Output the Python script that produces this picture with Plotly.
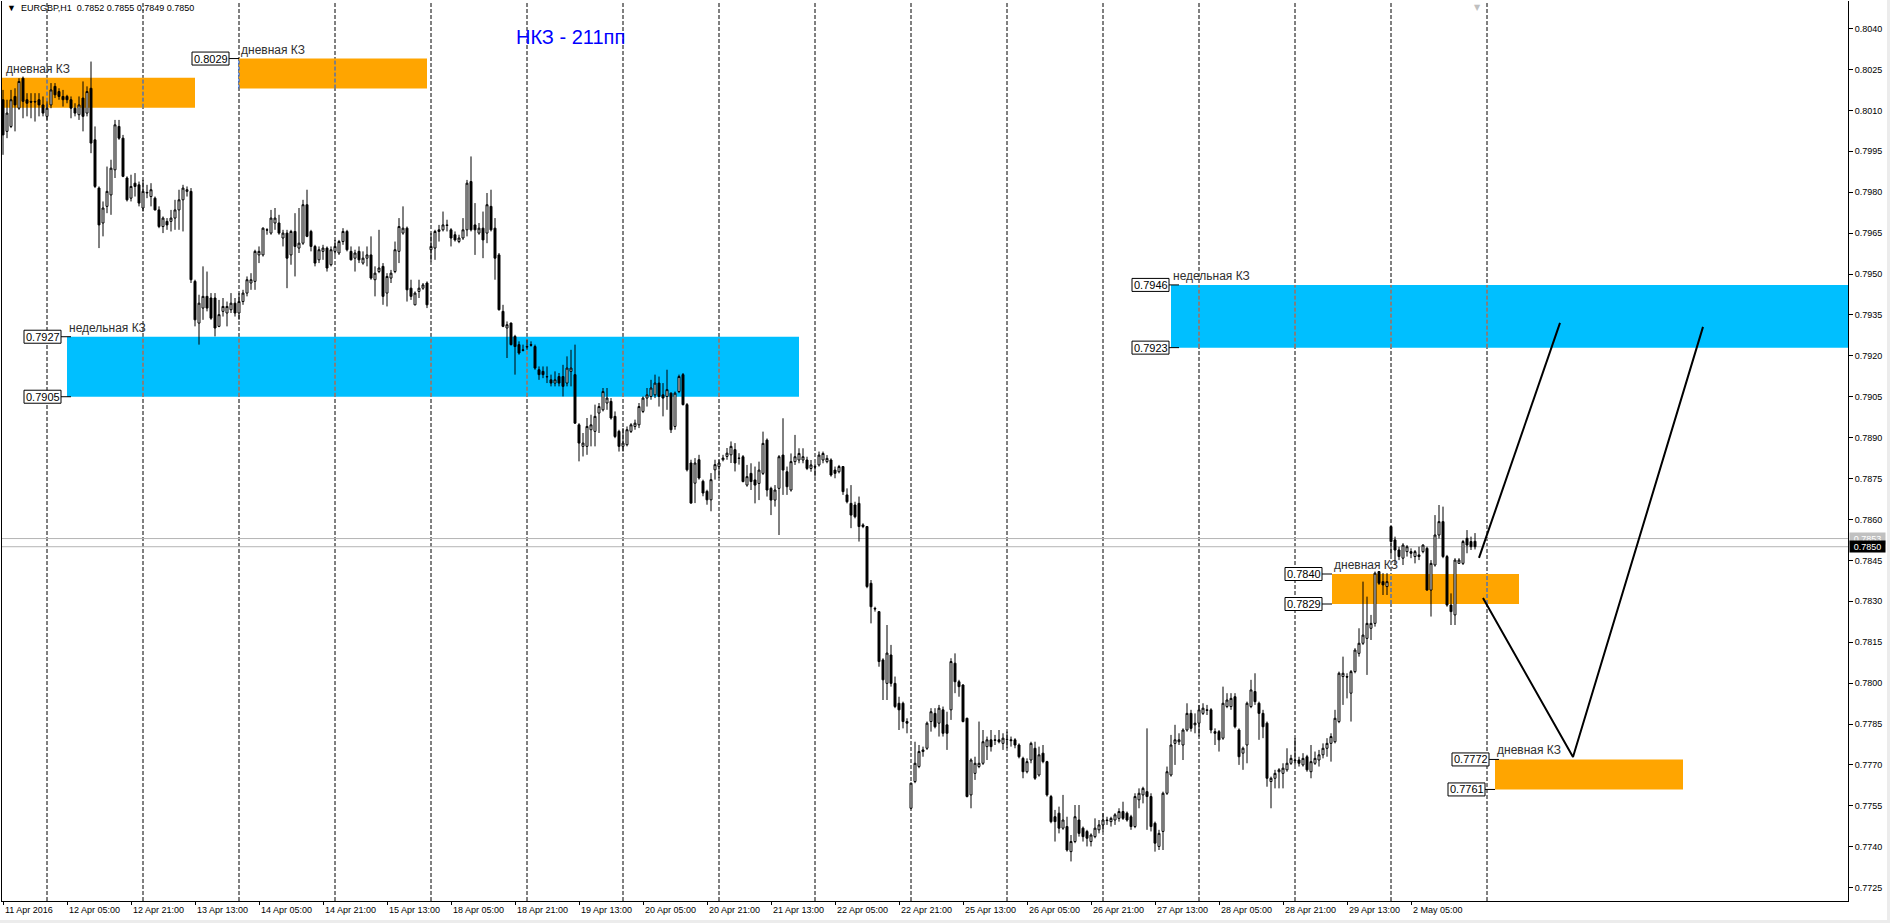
import plotly.graph_objects as go

FONT = "Liberation Sans, Arial, DejaVu Sans, sans-serif"
SYMBOL = "EURGBP,H1"
TITLE_TEXT = "НКЗ - 211пп"

# H1 bars, weekends removed. Bar -1 = 11 Apr 2016 13:00, bar 10 = 12 Apr 00:00 ...
opens = (
    [0.80139,0.80023,0.80041,0.80151,0.80108,0.80218,0.80139,0.80133,0.80133,0.80139,0.80120]  # 11 Apr
    + [0.80078,0.80120,0.80188,0.80169,0.80151,0.80151,0.80139,0.80108,0.80084,0.80145,0.80090,0.80181,0.79992,0.79815,0.79687,0.79748,0.79790,0.79882,0.80041,0.79998,0.79852,0.79778,0.79833,0.79827]  # 12 Apr
    + [0.79742,0.79797,0.79784,0.79778,0.79735,0.79674,0.79693,0.79693,0.79705,0.79735,0.79772,0.79803,0.79803,0.79473,0.79320,0.79375,0.79418,0.79412,0.79412,0.79308,0.79363,0.79357,0.79369,0.79393]  # 13 Apr
    + [0.79357,0.79399,0.79430,0.79467,0.79473,0.79570,0.79570,0.79662,0.79650,0.79687,0.79687,0.79632,0.79650,0.79570,0.79656,0.79595,0.79613,0.79754,0.79656,0.79601,0.79552,0.79583,0.79595,0.79534]  # 14 Apr
    + [0.79583,0.79577,0.79619,0.79656,0.79583,0.79558,0.79583,0.79540,0.79558,0.79570,0.79479,0.79509,0.79528,0.79430,0.79485,0.79509,0.79583,0.79650,0.79668,0.79448,0.79387,0.79436,0.79448,0.79467]  # 15 Apr
    + [0.79589,0.79595,0.79656,0.79662,0.79680,0.79662,0.79644,0.79619,0.79632,0.79662,0.79839,0.79680,0.79650,0.79668,0.79650,0.79748,0.79668,0.79570,0.79363,0.79302,0.79320,0.79271,0.79241,0.79222]  # 18 Apr
    + [0.79232,0.79241,0.79234,0.79149,0.79143,0.79124,0.79112,0.79100,0.79124,0.79124,0.79100,0.79143,0.79131,0.78947,0.78868,0.78868,0.78929,0.78923,0.78990,0.79002,0.79027,0.79033,0.78978,0.78923]  # 19 Apr
    + [0.78868,0.78874,0.78923,0.78941,0.78947,0.78996,0.79045,0.79051,0.79057,0.79100,0.79057,0.79051,0.79063,0.78941,0.79069,0.79131,0.79021,0.78807,0.78733,0.78819,0.78740,0.78703,0.78672,0.78782]  # 20 Apr
    + [0.78794,0.78819,0.78831,0.78837,0.78856,0.78825,0.78830,0.78726,0.78769,0.78745,0.78732,0.78769,0.78891,0.78714,0.78671,0.78714,0.78836,0.78775,0.78708,0.78812,0.78818,0.78818,0.78818,0.78787]  # 21 Apr
    + [0.78794,0.78800,0.78818,0.78812,0.78818,0.78781,0.78775,0.78794,0.78690,0.78659,0.78653,0.78659,0.78580,0.78574,0.78366,0.78274,0.78262,0.78085,0.77999,0.78103,0.77999,0.77926,0.77926,0.77859]  # 22 Apr
    + [0.77541,0.77639,0.77694,0.77749,0.77761,0.77859,0.77889,0.77853,0.77902,0.77847,0.77902,0.78073,0.78005,0.77993,0.77871,0.77590,0.77669,0.77694,0.77706,0.77767,0.77792,0.77792,0.77792,0.77779]  # 25 Apr
    + [0.77792,0.77792,0.77792,0.77773,0.77724,0.77675,0.77718,0.77761,0.77663,0.77743,0.77712,0.77584,0.77510,0.77523,0.77468,0.77474,0.77382,0.77419,0.77498,0.77468,0.77456,0.77419,0.77437,0.77462]  # 26 Apr
    + [0.77480,0.77498,0.77492,0.77498,0.77504,0.77529,0.77523,0.77510,0.77474,0.77572,0.77590,0.77602,0.77584,0.77486,0.77401,0.77456,0.77596,0.77663,0.77779,0.77785,0.77773,0.77828,0.77889,0.77847]  # 27 Apr
    + [0.77853,0.77889,0.77902,0.77902,0.77822,0.77822,0.77798,0.77914,0.77914,0.77950,0.77828,0.77743,0.77773,0.77914,0.77969,0.77926,0.77889,0.77853,0.77639,0.77651,0.77675,0.77669,0.77682,0.77706]  # 28 Apr
    + [0.77718,0.77718,0.77700,0.77730,0.77675,0.77706,0.77718,0.77737,0.77761,0.77779,0.77785,0.77859,0.78024,0.78024,0.77963,0.78042,0.78109,0.78146,0.78164,0.78201,0.78219,0.78409,0.78372,0.78354]  # 29 Apr
    + [0.78574,0.78525,0.78488,0.78458,0.78482,0.78482,0.78464,0.78470,0.78482,0.78494,0.78341,0.78433,0.78543,0.78592,0.78464,0.78286,0.78250,0.78439,0.78439,0.78531,0.78519,0.78520]  # 2 May
)
highs = (
    [0.80175,0.80139,0.80175,0.80181,0.80218,0.80224,0.80163,0.80163,0.80163,0.80163,0.80151]
    + [0.80133,0.80200,0.80200,0.80181,0.80175,0.80157,0.80151,0.80126,0.80151,0.80206,0.80188,0.80279,0.80041,0.79821,0.79766,0.79894,0.79919,0.80065,0.80065,0.80010,0.79858,0.79864,0.79870,0.79839]
    + [0.79845,0.79827,0.79833,0.79784,0.79748,0.79711,0.79705,0.79735,0.79772,0.79809,0.79827,0.79821,0.79815,0.79479,0.79424,0.79528,0.79509,0.79430,0.79430,0.79405,0.79412,0.79399,0.79430,0.79412]
    + [0.79430,0.79442,0.79491,0.79503,0.79589,0.79601,0.79671,0.79668,0.79735,0.79742,0.79717,0.79662,0.79662,0.79662,0.79723,0.79742,0.79772,0.79809,0.79662,0.79607,0.79601,0.79607,0.79601,0.79601]
    + [0.79625,0.79625,0.79668,0.79662,0.79601,0.79589,0.79601,0.79583,0.79601,0.79638,0.79528,0.79662,0.79540,0.79503,0.79515,0.79619,0.79705,0.79748,0.79674,0.79479,0.79436,0.79479,0.79467,0.79473]
    + [0.79650,0.79662,0.79680,0.79729,0.79699,0.79668,0.79656,0.79644,0.79705,0.79845,0.79931,0.79760,0.79687,0.79729,0.79797,0.79809,0.79705,0.79577,0.79387,0.79326,0.79322,0.79277,0.79253,0.79241]
    + [0.79259,0.79253,0.79241,0.79161,0.79161,0.79161,0.79131,0.79143,0.79137,0.79167,0.79198,0.79222,0.79241,0.78953,0.78917,0.78972,0.78984,0.79021,0.79027,0.79082,0.79082,0.79045,0.78996,0.78929]
    + [0.78935,0.78941,0.78953,0.78966,0.79027,0.79051,0.79082,0.79112,0.79131,0.79124,0.79100,0.79149,0.79066,0.79069,0.79131,0.79137,0.79027,0.78819,0.78825,0.78837,0.78746,0.78709,0.78770,0.78819]
    + [0.78819,0.78837,0.78862,0.78886,0.78880,0.78843,0.78836,0.78800,0.78806,0.78794,0.78812,0.78922,0.78897,0.78720,0.78726,0.78836,0.78971,0.78794,0.78842,0.78910,0.78861,0.78861,0.78830,0.78818]
    + [0.78806,0.78849,0.78849,0.78836,0.78824,0.78794,0.78800,0.78796,0.78714,0.78726,0.78665,0.78684,0.78586,0.78576,0.78378,0.78280,0.78264,0.78091,0.78213,0.78140,0.78024,0.77950,0.77932,0.77871]
    + [0.77635,0.77785,0.77773,0.77767,0.77859,0.77908,0.77908,0.77920,0.77914,0.77895,0.78091,0.78109,0.78012,0.77996,0.77873,0.77724,0.77730,0.77859,0.77828,0.77804,0.77828,0.77810,0.77828,0.77816]
    + [0.77822,0.77804,0.77798,0.77779,0.77730,0.77724,0.77785,0.77785,0.77767,0.77773,0.77715,0.77590,0.77535,0.77547,0.77590,0.77510,0.77443,0.77553,0.77553,0.77474,0.77462,0.77449,0.77504,0.77498]
    + [0.77523,0.77510,0.77510,0.77523,0.77541,0.77565,0.77529,0.77517,0.77596,0.77614,0.77620,0.77834,0.77596,0.77492,0.77462,0.77602,0.77694,0.77810,0.77847,0.77816,0.77834,0.77926,0.77902,0.77889]
    + [0.77920,0.77926,0.77920,0.77908,0.77834,0.77828,0.77987,0.77963,0.77963,0.77963,0.77834,0.77767,0.77932,0.78012,0.78036,0.77932,0.77902,0.77859,0.77657,0.77682,0.77688,0.77706,0.77761,0.77737]
    + [0.77798,0.77730,0.77743,0.77737,0.77773,0.77749,0.77755,0.77779,0.77798,0.77816,0.77902,0.78042,0.78097,0.78036,0.78048,0.78128,0.78201,0.78372,0.78317,0.78250,0.78409,0.78411,0.78403,0.78403]
    + [0.78576,0.78537,0.78500,0.78513,0.78506,0.78494,0.78488,0.78500,0.78509,0.78500,0.78451,0.78616,0.78653,0.78647,0.78470,0.78329,0.78458,0.78458,0.78525,0.78561,0.78537,0.78550]
)
lows = (
    [0.79937,0.79998,0.80035,0.80023,0.80102,0.80071,0.80078,0.80071,0.80059,0.80078,0.80078]
    + [0.80065,0.80108,0.80145,0.80139,0.80114,0.80126,0.80071,0.80078,0.80065,0.80023,0.80078,0.79943,0.79815,0.79595,0.79638,0.79723,0.79717,0.79852,0.79992,0.79855,0.79766,0.79766,0.79784,0.79748]
    + [0.79729,0.79778,0.79748,0.79733,0.79668,0.79650,0.79662,0.79656,0.79662,0.79662,0.79656,0.79784,0.79467,0.79308,0.79241,0.79332,0.79363,0.79332,0.79271,0.79305,0.79344,0.79308,0.79357,0.79344]
    + [0.79332,0.79387,0.79418,0.79442,0.79442,0.79540,0.79564,0.79644,0.79644,0.79662,0.79644,0.79601,0.79448,0.79534,0.79491,0.79577,0.79607,0.79635,0.79583,0.79528,0.79540,0.79552,0.79509,0.79528]
    + [0.79570,0.79570,0.79607,0.79583,0.79550,0.79509,0.79540,0.79534,0.79528,0.79479,0.79418,0.79503,0.79387,0.79381,0.79467,0.79503,0.79540,0.79644,0.79399,0.79405,0.79385,0.79412,0.79442,0.79375]
    + [0.79546,0.79552,0.79619,0.79656,0.79656,0.79601,0.79619,0.79613,0.79625,0.79638,0.79656,0.79570,0.79644,0.79558,0.79613,0.79656,0.79479,0.79366,0.79305,0.79192,0.79238,0.79131,0.79204,0.79216]
    + [0.79222,0.79234,0.79149,0.79112,0.79118,0.79100,0.79088,0.79088,0.79088,0.79051,0.79088,0.79088,0.78951,0.78813,0.78831,0.78837,0.78868,0.78868,0.78917,0.78996,0.79002,0.78966,0.78898,0.78849]
    + [0.78849,0.78868,0.78917,0.78929,0.78935,0.78990,0.79014,0.79039,0.79045,0.79014,0.78978,0.79002,0.78917,0.78929,0.79063,0.79018,0.78776,0.78658,0.78660,0.78746,0.78685,0.78654,0.78630,0.78746]
    + [0.78752,0.78813,0.78819,0.78807,0.78776,0.78801,0.78736,0.78720,0.78708,0.78659,0.78671,0.78763,0.78684,0.78616,0.78647,0.78543,0.78690,0.78690,0.78702,0.78800,0.78806,0.78806,0.78781,0.78775]
    + [0.78757,0.78794,0.78806,0.78806,0.78757,0.78751,0.78769,0.78690,0.78659,0.78568,0.78604,0.78519,0.78568,0.78348,0.78219,0.78262,0.78060,0.77938,0.77938,0.77987,0.77908,0.77828,0.77834,0.77816]
    + [0.77539,0.77633,0.77688,0.77730,0.77755,0.77822,0.77834,0.77804,0.77804,0.77755,0.77865,0.77963,0.77950,0.77856,0.77581,0.77541,0.77645,0.77688,0.77700,0.77718,0.77749,0.77773,0.77779,0.77755]
    + [0.77761,0.77767,0.77761,0.77724,0.77651,0.77669,0.77706,0.77645,0.77657,0.77706,0.77584,0.77486,0.77419,0.77449,0.77462,0.77382,0.77346,0.77413,0.77437,0.77419,0.77401,0.77401,0.77431,0.77449]
    + [0.77456,0.77480,0.77474,0.77480,0.77492,0.77498,0.77492,0.77462,0.77468,0.77541,0.77559,0.77462,0.77456,0.77382,0.77388,0.77388,0.77590,0.77657,0.77700,0.77773,0.77718,0.77822,0.77822,0.77816]
    + [0.77804,0.77883,0.77883,0.77816,0.77773,0.77749,0.77792,0.77908,0.77902,0.77834,0.77700,0.77682,0.77706,0.77908,0.77920,0.77792,0.77798,0.77620,0.77541,0.77614,0.77614,0.77614,0.77675,0.77700]
    + [0.77700,0.77694,0.77694,0.77675,0.77651,0.77700,0.77694,0.77724,0.77730,0.77712,0.77779,0.77853,0.77920,0.77944,0.77859,0.78036,0.78097,0.78140,0.78030,0.78158,0.78207,0.78360,0.78323,0.78323]
    + [0.78470,0.78433,0.78451,0.78433,0.78464,0.78458,0.78439,0.78451,0.78476,0.78339,0.78244,0.78427,0.78530,0.78458,0.78280,0.78213,0.78213,0.78437,0.78433,0.78476,0.78488,0.78490]
)
closes = (
    [0.80010,0.80090,0.80139,0.80120,0.80206,0.80133,0.80126,0.80130,0.80131,0.80120,0.80090]
    + [0.80108,0.80175,0.80157,0.80151,0.80139,0.80139,0.80108,0.80090,0.80120,0.80078,0.80169,0.79980,0.79821,0.79680,0.79742,0.79803,0.79888,0.80047,0.79998,0.79858,0.79772,0.79821,0.79821,0.79760]
    + [0.79803,0.79799,0.79809,0.79735,0.79674,0.79705,0.79680,0.79705,0.79735,0.79772,0.79815,0.79809,0.79479,0.79332,0.79393,0.79418,0.79375,0.79338,0.79302,0.79351,0.79381,0.79381,0.79393,0.79357]
    + [0.79399,0.79430,0.79479,0.79479,0.79583,0.79583,0.79668,0.79661,0.79705,0.79705,0.79650,0.79650,0.79558,0.79656,0.79601,0.79613,0.79754,0.79638,0.79601,0.79540,0.79589,0.79595,0.79522,0.79589]
    + [0.79601,0.79619,0.79656,0.79589,0.79552,0.79577,0.79552,0.79558,0.79570,0.79485,0.79503,0.79522,0.79418,0.79491,0.79503,0.79589,0.79674,0.79668,0.79442,0.79418,0.79430,0.79448,0.79460,0.79387]
    + [0.79601,0.79656,0.79662,0.79680,0.79678,0.79632,0.79625,0.79632,0.79662,0.79833,0.79662,0.79662,0.79668,0.79625,0.79754,0.79662,0.79558,0.79369,0.79308,0.79314,0.79241,0.79234,0.79210,0.79220]
    + [0.79234,0.79239,0.79155,0.79131,0.79131,0.79123,0.79100,0.79112,0.79100,0.79088,0.79155,0.79155,0.78953,0.78880,0.78880,0.78941,0.78947,0.78978,0.79014,0.79069,0.79045,0.78972,0.78904,0.78868]
    + [0.78880,0.78929,0.78947,0.78953,0.79014,0.79045,0.79057,0.79082,0.79100,0.79051,0.79045,0.79076,0.78929,0.79063,0.79124,0.79021,0.78782,0.78660,0.78807,0.78752,0.78697,0.78672,0.78746,0.78801]
    + [0.78807,0.78825,0.78843,0.78868,0.78807,0.78824,0.78739,0.78757,0.78739,0.78726,0.78781,0.78879,0.78708,0.78671,0.78708,0.78830,0.78781,0.78720,0.78812,0.78830,0.78842,0.78830,0.78787,0.78800]
    + [0.78792,0.78836,0.78842,0.78824,0.78763,0.78769,0.78794,0.78702,0.78665,0.78616,0.78610,0.78574,0.78574,0.78354,0.78280,0.78272,0.78079,0.78012,0.78110,0.77999,0.77914,0.77902,0.77859,0.77853]
    + [0.77633,0.77706,0.77749,0.77755,0.77853,0.77895,0.77840,0.77908,0.77816,0.77816,0.78079,0.78005,0.77987,0.77859,0.77584,0.77718,0.77706,0.77706,0.77785,0.77792,0.77767,0.77790,0.77785,0.77798]
    + [0.77793,0.77789,0.77773,0.77730,0.77675,0.77712,0.77779,0.77651,0.77737,0.77712,0.77590,0.77492,0.77492,0.77468,0.77498,0.77388,0.77419,0.77510,0.77449,0.77437,0.77431,0.77443,0.77468,0.77480]
    + [0.77498,0.77496,0.77504,0.77517,0.77529,0.77504,0.77498,0.77474,0.77584,0.77596,0.77614,0.77584,0.77474,0.77413,0.77449,0.77596,0.77675,0.77773,0.77792,0.77792,0.77828,0.77889,0.77834,0.77853]
    + [0.77902,0.77908,0.77900,0.77828,0.77816,0.77792,0.77926,0.77938,0.77944,0.77840,0.77730,0.77761,0.77926,0.77975,0.77932,0.77889,0.77840,0.77651,0.77651,0.77669,0.77682,0.77688,0.77706,0.77724]
    + [0.77716,0.77706,0.77724,0.77682,0.77712,0.77724,0.77737,0.77761,0.77779,0.77804,0.77871,0.78036,0.78036,0.78022,0.78042,0.78121,0.78146,0.78176,0.78219,0.78219,0.78403,0.78366,0.78360,0.78372]
    + [0.78519,0.78488,0.78464,0.78506,0.78500,0.78476,0.78482,0.78464,0.78506,0.78341,0.78439,0.78543,0.78592,0.78464,0.78286,0.78262,0.78451,0.78451,0.78519,0.78506,0.78500,0.78500]
)
FIRST_BAR = -1
bars = list(range(FIRST_BAR, FIRST_BAR + len(opens)))

# time axis
tick_bars = [-1, 15, 31, 47, 63, 79, 95, 111, 127, 143, 159, 175, 191, 207, 223,
             239, 255, 271, 287, 303, 319, 335, 351]
tick_text = ["11 Apr 2016", "12 Apr 05:00", "12 Apr 21:00", "13 Apr 13:00", "14 Apr 05:00",
             "14 Apr 21:00", "15 Apr 13:00", "18 Apr 05:00", "18 Apr 21:00", "19 Apr 13:00",
             "20 Apr 05:00", "20 Apr 21:00", "21 Apr 13:00", "22 Apr 05:00", "22 Apr 21:00",
             "25 Apr 13:00", "26 Apr 05:00", "26 Apr 21:00", "27 Apr 13:00", "28 Apr 05:00",
             "28 Apr 21:00", "29 Apr 13:00", "2 May 05:00"]
day_start_bars = [10, 34, 58, 82, 106, 130, 154, 178, 202, 226, 250, 274, 298, 322, 346, 370]

# supply/demand zones (bar index span, price span)
zone_x0 = [-5, 58, 15, 291, 331.25, 372]
zone_x1 = [47, 105, 198, 470, 378, 419]
zone_lo = [0.8011, 0.8018, 0.7905, 0.7923, 0.7829, 0.7761]
zone_hi = [0.8022, 0.8029, 0.7927, 0.7946, 0.7840, 0.7772]
zone_kind = ["day", "day", "week", "week", "day", "day"]
zone_label_x = [-0.75, 58, 15, 291, 331.25, 372]
ZONE_TEXT = {"day": "дневная КЗ", "week": "недельная КЗ"}
ZONE_COLOR = {"day": "#FFA500", "week": "#00BFFF"}
ZONE_SEP_COLOR = {"day": "rgb(0,90,255)", "week": "rgb(255,64,0)"}

# price tags (bar where the tag's leader ends, price)
tag_bar = [58, 16, 16, 293, 293, 331.25, 331.25, 373, 372]
tag_price = [0.8029, 0.7927, 0.7905, 0.7946, 0.7923, 0.7840, 0.7829, 0.7772, 0.7761]

# projected path drawn by the analyst
proj_up_x = [368, 388.25]
proj_up_y = [0.78459, 0.79321]
proj_alt_x = [369, 391.5, 424]
proj_alt_y = [0.78312, 0.77729, 0.79306]

ask_price = 0.7853
bid_price = 0.7850

Y_MIN, Y_MAX = 0.77201, 0.80501
X_MIN, X_MAX = -1.25, 460.25

fig = go.Figure()
fig.add_trace(go.Candlestick(
    x=bars, open=opens, high=highs, low=lows, close=closes,
    increasing=dict(line=dict(color="black", width=1), fillcolor="white"),
    decreasing=dict(line=dict(color="black", width=1), fillcolor="black"),
    whiskerwidth=0, hoverinfo="skip", showlegend=False))
for px_, py_ in [(proj_up_x, proj_up_y), (proj_alt_x, proj_alt_y)]:
    fig.add_trace(go.Scatter(x=px_, y=py_, mode="lines", line=dict(color="black", width=2),
                             hoverinfo="skip", showlegend=False))

shapes = []
for x0, x1, lo, hi, k in zip(zone_x0, zone_x1, zone_lo, zone_hi, zone_kind):
    shapes.append(dict(type="rect", xref="x", yref="y", x0=x0, x1=x1, y0=lo, y1=hi,
                       fillcolor=ZONE_COLOR[k], line=dict(width=0), layer="below"))
for b in day_start_bars:
    shapes.append(dict(type="line", xref="x", yref="paper", x0=b, x1=b, y0=0, y1=1,
                       line=dict(color="black", width=1, dash="4px,2px"), layer="below"))
    for x0, x1, lo, hi, k in zip(zone_x0, zone_x1, zone_lo, zone_hi, zone_kind):
        if x0 <= b <= x1:
            shapes.append(dict(type="line", xref="x", yref="y", x0=b, x1=b, y0=lo, y1=hi,
                               line=dict(color=ZONE_SEP_COLOR[k], width=1, dash="4px,2px"),
                               layer="below"))
for p in (ask_price, bid_price):
    shapes.append(dict(type="line", xref="x", yref="y", x0=X_MIN, x1=X_MAX, y0=p, y1=p,
                       line=dict(color="#b4b4b4", width=1), layer="below"))
for b, p in zip(tag_bar, tag_price):
    shapes.append(dict(type="line", xref="x", yref="y", xsizemode="pixel", xanchor=b,
                       x0=-10, x1=0, y0=p, y1=p, line=dict(color="black", width=1)))
    shapes.append(dict(type="rect", xref="x", yref="y", xsizemode="pixel", xanchor=b,
                       x0=-47, x1=-10, ysizemode="pixel", yanchor=p, y0=-6.5, y1=6.5,
                       fillcolor="white", line=dict(color="black", width=1)))
# window edges
shapes.append(dict(type="rect", xref="paper", yref="paper", x0=-0.01, x1=1.03,
                   y0=-0.035, y1=-19 / 900, fillcolor="#ececec", line=dict(width=0)))
shapes.append(dict(type="rect", xref="paper", yref="paper", x0=1885 / 1846, x1=1.03,
                   y0=-0.035, y1=1.01, fillcolor="#ececec", line=dict(width=0)))

ann = []
for lx, hi, k in zip(zone_label_x, zone_hi, zone_kind):
    ann.append(dict(x=lx, y=hi, xref="x", yref="y", xanchor="left", yanchor="bottom",
                    text=ZONE_TEXT[k], showarrow=False,
                    font=dict(family=FONT, size=12, color="#303030")))
for b, p in zip(tag_bar, tag_price):
    ann.append(dict(x=b, y=p, xref="x", yref="y", xanchor="center", yanchor="middle",
                    xshift=-28.5, text=f"{p:.4f}", showarrow=False, borderpad=0,
                    font=dict(family=FONT, size=11, color="black")))
for b, t in zip(tick_bars, tick_text):
    ann.append(dict(x=b, y=0, xref="x", yref="paper", xanchor="left", yanchor="top",
                    yshift=-2, text=t, showarrow=False,
                    font=dict(family=FONT, size=9, color="black")))
ann.append(dict(x=0, y=1, xref="paper", yref="paper", xanchor="left", yanchor="top",
                xshift=3, yshift=0, showarrow=False,
                text=f"▼  {SYMBOL}  {opens[-1]:.4f} {highs[-1]:.4f} {lows[-1]:.4f} {closes[-1]:.4f}",
                font=dict(family=FONT, size=9, color="black")))
ann.append(dict(x=568 / 1846, y=864 / 900, xref="paper", yref="paper", xanchor="center",
                yanchor="middle", text=TITLE_TEXT, showarrow=False,
                font=dict(family=FONT, size=20, color="#0000FF")))
ann.append(dict(x=bars[-1] + 0.5, y=1, xref="x", yref="paper", xanchor="center", yanchor="top",
                text="▼", showarrow=False, font=dict(family="DejaVu Sans", size=8, color="#c0c0c0")))
for p, bg in [(ask_price, "#c0c0c0"), (bid_price, "black")]:
    ann.append(dict(x=1, y=p, xref="paper", yref="y", xanchor="left", yanchor="middle",
                    xshift=1, text=f"{p:.4f}", showarrow=False, bgcolor=bg, borderpad=0,
                    width=35, height=11, font=dict(family=FONT, size=9, color="white")))

fig.update_layout(
    width=1890, height=923,
    margin=dict(l=2, r=42, t=1, b=22, autoexpand=False),
    paper_bgcolor="white", plot_bgcolor="white",
    showlegend=False, shapes=shapes, annotations=ann,
    xaxis=dict(range=[X_MIN, X_MAX], showline=True, linecolor="black", linewidth=1,
               ticks="outside", ticklen=3, tickcolor="black", tickvals=tick_bars,
               showticklabels=False, showgrid=False, zeroline=False,
               rangeslider=dict(visible=False), fixedrange=True),
    yaxis=dict(range=[Y_MIN, Y_MAX], side="right", showline=True, mirror=True,
               linecolor="black", linewidth=1, ticks="outside", ticklen=4, tickcolor="black",
               tick0=0.7725, dtick=0.0015, tickformat=".4f", showgrid=False, zeroline=False,
               tickfont=dict(family=FONT, size=9, color="black"), fixedrange=True),
)
fig.write_html(
    "out.html",
    config={"displayModeBar": False},
    post_script="document.body.style.margin='0';document.body.style.overflow='hidden';",
)
